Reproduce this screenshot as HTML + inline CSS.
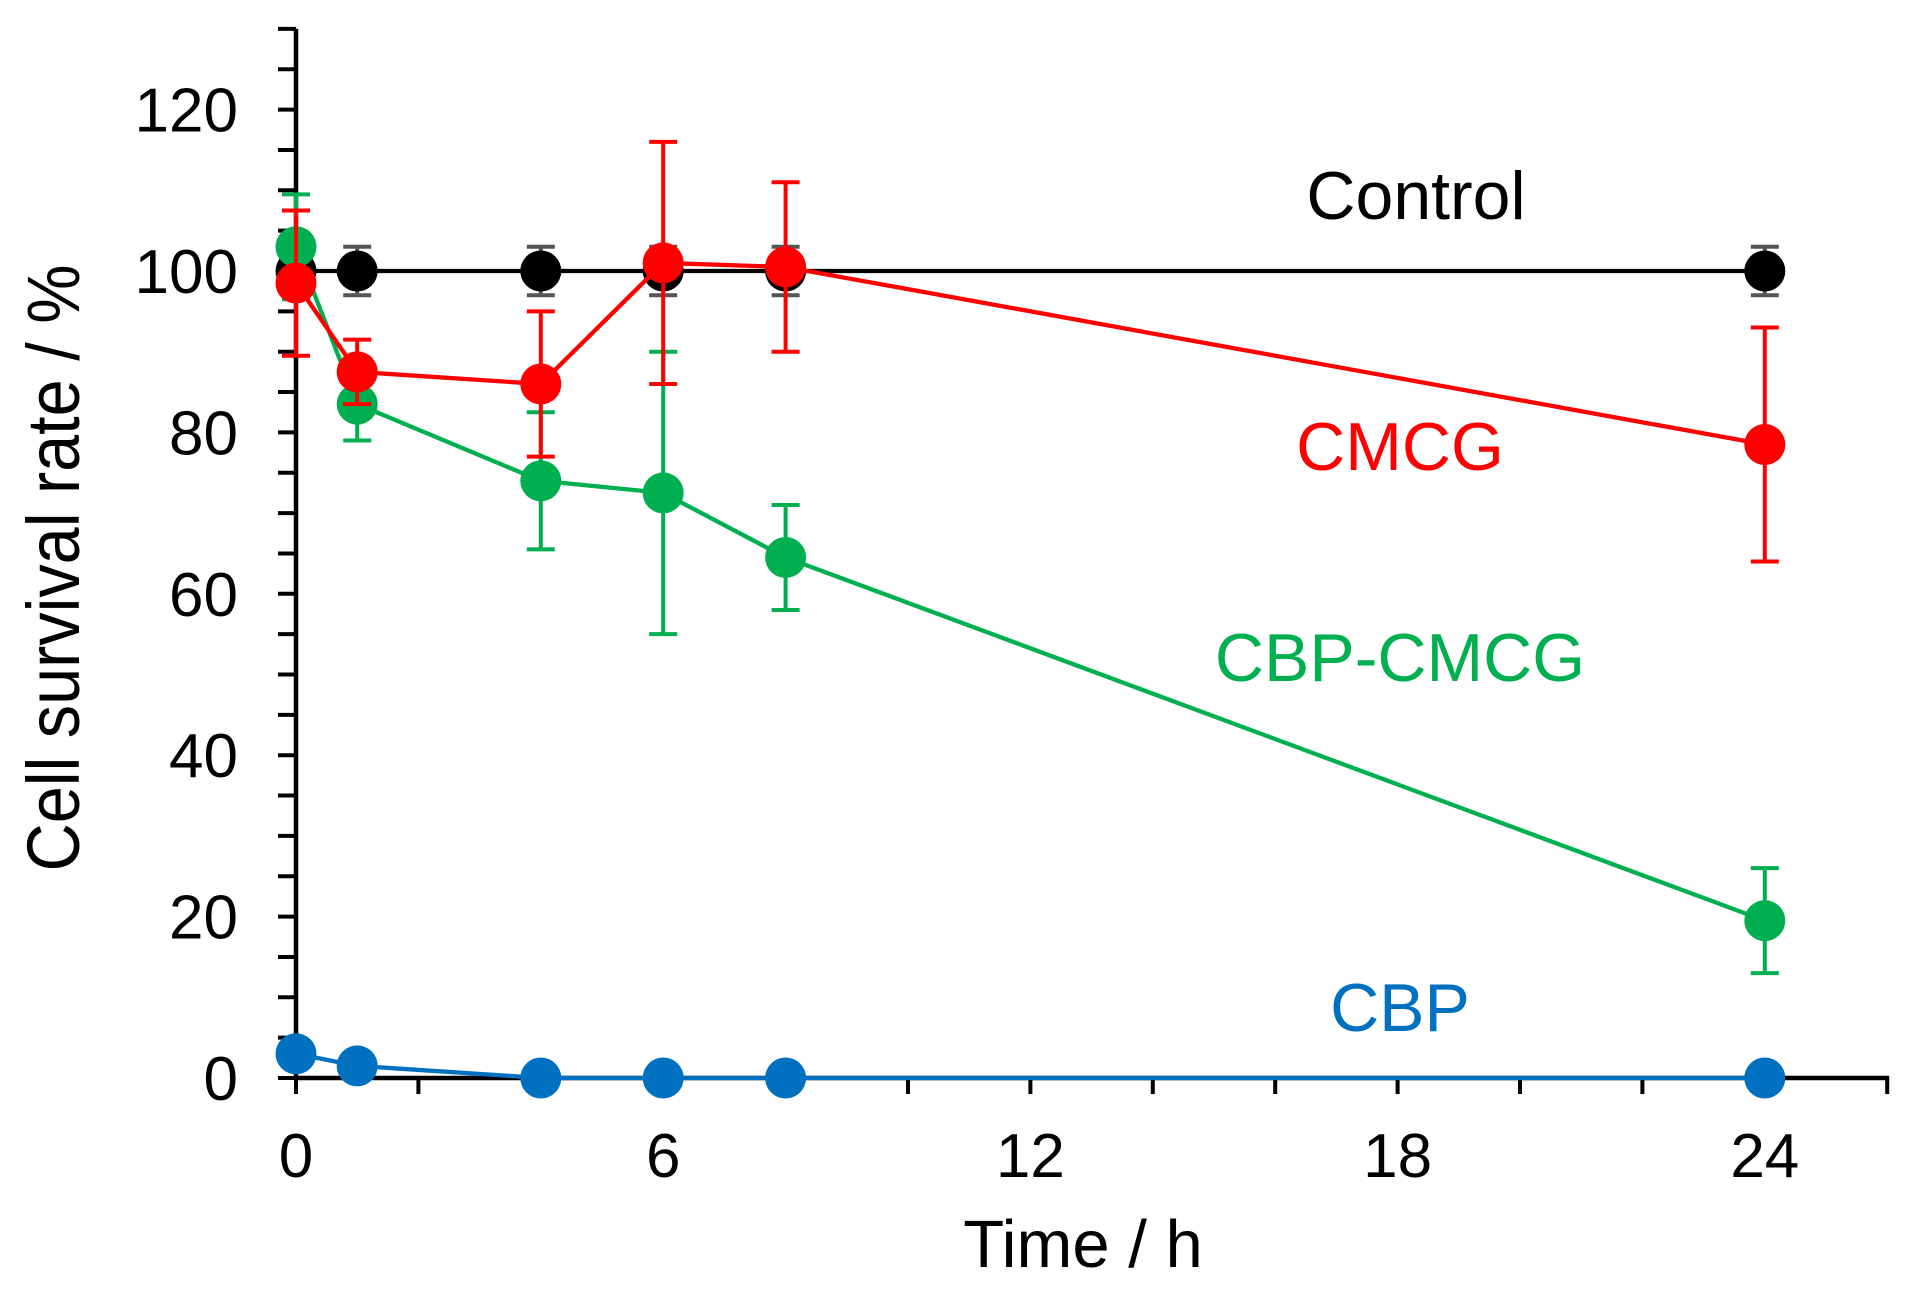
<!DOCTYPE html>
<html><head><meta charset="utf-8"><style>
html,body{margin:0;padding:0;background:#fff;}
svg{display:block;font-family:"Liberation Sans",Arial,sans-serif;}
</style></head><body>
<svg id="chart" width="1914" height="1290" viewBox="0 0 1914 1290" xmlns="http://www.w3.org/2000/svg"></svg>
<script>
const hours = [0, 1, 4, 6, 8, 24];
const controlVals = [100, 100, 100, 100, 100, 100];
const controlErr = [3, 3, 3, 3, 3, 3];
const cmcgVals = [98.5, 87.5, 86, 101, 100.5, 78.5];
const cmcgErr = [9, 4, 9, 15, 10.5, 14.5];
const cbpCmcgVals = [103, 83.5, 74, 72.5, 64.5, 19.5];
const cbpCmcgErr = [6.5, 4.5, 8.5, 17.5, 6.5, 6.5];
const cbpVals = [3, 1.5, 0, 0, 0, 0];
const yTickLabels = [0, 20, 40, 60, 80, 100, 120];
const xTickLabels = [0, 6, 12, 18, 24];

const svg = document.getElementById('chart');
const NS = 'http://www.w3.org/2000/svg';
const X0 = 296, PXH = 61.2, Y0 = 1078, PXU = 8.07;
const xs = h => X0 + h * PXH;
const ys = v => Y0 - v * PXU;
function mk(tag, attrs, parent) {
  const e = document.createElementNS(NS, tag);
  for (const k in attrs) e.setAttribute(k, attrs[k]);
  (parent || svg).appendChild(e);
  return e;
}
const axes = mk('g', {});


const yAxis = mk('line', {x1: X0, y1: ys(130), x2: X0, y2: Y0 + 2, stroke: '#000', 'stroke-width': 4.5}, axes);


const xAxis = mk('line', {x1: X0 - 2, y1: Y0, x2: xs(26) + 2, y2: Y0, stroke: '#000', 'stroke-width': 4.5}, axes);


for (let v = 0; v <= 130; v += 5) {
  const t = mk('line', {x1: X0 - 18, y1: ys(v), x2: X0, y2: ys(v), stroke: '#000', 'stroke-width': 4}, axes);
  
  
}
for (let h = 0; h <= 26; h += 2) {
  const t = mk('line', {x1: xs(h), y1: Y0, x2: xs(h), y2: Y0 + 16, stroke: '#000', 'stroke-width': 4}, axes);
  
  
}
yTickLabels.forEach(v => {
  const t = mk('text', {x: 238, y: ys(v) + 22, 'text-anchor': 'end', 'font-size': 62, fill: '#000'}, axes);
  t.textContent = v;
  
  
});
xTickLabels.forEach(h => {
  const t = mk('text', {x: xs(h), y: 1177, 'text-anchor': 'middle', 'font-size': 62, fill: '#000'}, axes);
  t.textContent = h;
  
  
});
const xt = mk('text', {x: 1083, y: 1267, 'text-anchor': 'middle', 'font-size': 67, fill: '#000'});
xt.textContent = 'Time / h';


const yt = mk('text', {x: 0, y: 0, 'text-anchor': 'middle', 'font-size': 74, fill: '#000', transform: 'translate(79,568) rotate(-90) scale(0.9,1)'});
yt.textContent = 'Cell survival rate / %';



function series(name, vals, errs, color, errColor) {
  const g = mk('g', {});
  
  
  if (errs) {
    vals.forEach((v, i) => {
      const x = xs(hours[i]), e = errs[i];
      const eg = mk('g', {stroke: errColor, 'stroke-width': 4}, g);
      
      
      mk('line', {x1: x, y1: ys(v + e), x2: x, y2: ys(v - e)}, eg);
      mk('line', {x1: x - 14, y1: ys(v + e), x2: x + 14, y2: ys(v + e)}, eg);
      mk('line', {x1: x - 14, y1: ys(v - e), x2: x + 14, y2: ys(v - e)}, eg);
    });
  }
  const pts = vals.map((v, i) => xs(hours[i]) + ',' + ys(v)).join(' ');
  const pl = mk('polyline', {points: pts, fill: 'none', stroke: color, 'stroke-width': 4.3}, g);
  
  
  vals.forEach((v, i) => {
    const c = mk('circle', {cx: xs(hours[i]), cy: ys(v), r: 20.5, fill: color}, g);
    
    
  });
}
series('control', controlVals, controlErr, '#000', '#555');
series('cbp', cbpVals, null, '#0070c0', '#0070c0');
series('cbp-cmcg', cbpCmcgVals, cbpCmcgErr, '#00b050', '#00b050');
series('cmcg', cmcgVals, cmcgErr, '#ff0000', '#ff0000');

function label(txt, x, y, color, name) {
  const t = mk('text', {x: x, y: y, 'text-anchor': 'middle', 'font-size': 68, fill: color});
  t.textContent = txt;
  
  
}
label('Control', 1416, 219, '#000', 'control-label');
label('CMCG', 1400, 470, '#ff0000', 'cmcg-label');
label('CBP-CMCG', 1400, 681, '#00b050', 'cbp-cmcg-label');
label('CBP', 1400, 1031, '#0070c0', 'cbp-label');
</script>
</body></html>
